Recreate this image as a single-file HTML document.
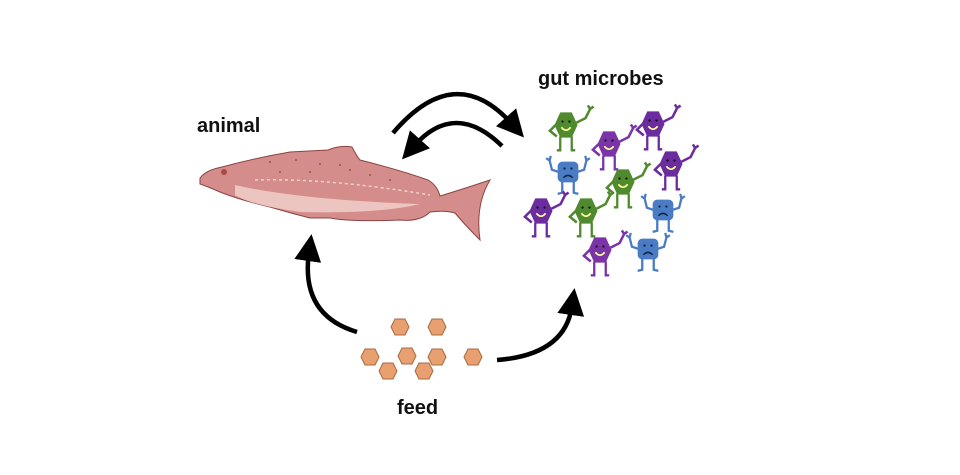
<!DOCTYPE html>
<html><head><style>
body{margin:0;background:#fff;}
.t{font-family:"Liberation Sans",sans-serif;font-weight:bold;font-size:20px;fill:#111;}
</style></head><body>
<svg width="960" height="470" viewBox="0 0 960 470" xmlns="http://www.w3.org/2000/svg">
<defs>
<marker id="ah" markerWidth="6" markerHeight="6" refX="2" refY="3" orient="auto" markerUnits="strokeWidth">
<path d="M0,0 L6,3 L0,6 Z" fill="#000"/></marker>
<g id="hap0">
<path d="M-5,10 L-5,22 L-8,22 M5,10 L5,22 L8,22" fill="none" stroke="currentColor" stroke-width="2"/>
<path d="M-9,0 L-14,5 L-8,10 M9,-2 L17,-6 L21,-14 M21,-14 L19,-17 M21,-14 L24,-16" fill="none" stroke="currentColor" stroke-width="2.2"/>
<polygon points="-5,-11 5,-11 10,0 5,11 -5,11 -10,0" fill="currentColor"/>
<path d="M-4,2 Q0,7 4,2" fill="none" stroke="#ff9" stroke-width="1.5"/>
<circle cx="-3" cy="-3" r="1" fill="#111"/><circle cx="3" cy="-3" r="1" fill="#111"/>
</g>
<g id="hap"><use href="#hap0" transform="scale(1.15)"/></g>
<g id="sad0">
<path d="M-5,8 L-5,18 L-9,19 M5,8 L5,18 L9,19" fill="none" stroke="currentColor" stroke-width="2"/>
<path d="M-8,0 L-14,-2 L-16,-10 M-16,-10 L-19,-12 M-16,-10 L-15,-14 M8,0 L14,-2 L16,-10 M16,-10 L19,-12 M16,-10 L15,-14" fill="none" stroke="currentColor" stroke-width="2"/>
<rect x="-9" y="-9" width="18" height="18" rx="4" fill="currentColor"/>
<path d="M-4,5 Q0,1 4,5" fill="none" stroke="#124" stroke-width="1.3"/>
<circle cx="-3" cy="-3" r="1" fill="#124"/><circle cx="3" cy="-3" r="1" fill="#124"/>
</g>
<g id="sad"><use href="#sad0" transform="scale(1.15)"/></g>
<polygon id="hx" points="-5,-8 5,-8 9,0 5,8 -5,8 -9,0" fill="#e8a070" stroke="#a86a40" stroke-width="1"/>
</defs>

<text class="t" x="197" y="132">animal</text>
<text class="t" x="538" y="85">gut microbes</text>
<text class="t" x="397" y="414">feed</text>

<!-- fish -->
<path d="M200,178 Q206,170 222,167 Q255,158 290,152 L328,150 Q340,145 352,147 Q356,155 360,160 Q400,170 428,180 Q437,185 440,196 Q460,190 490,180 Q475,205 480,240 Q465,225 455,213 Q445,210 430,212 Q420,222 400,220 Q350,222 330,218 L310,218 Q290,213 270,207 Q240,200 220,192 Q206,186 200,184 Z" fill="#d48d8a" stroke="#8a4442" stroke-width="1"/>
<path d="M235,185 Q300,200 420,204 Q380,214 300,212 Q250,205 235,195 Z" fill="#ecc4c0"/>
<path d="M255,180 Q330,178 430,195" fill="none" stroke="#f0d0cc" stroke-width="1.5" stroke-dasharray="3 3"/>
<circle cx="224" cy="172" r="3" fill="#a84a48"/>
<g fill="#a05050"><circle cx="270" cy="162" r="1"/><circle cx="296" cy="160" r="1"/><circle cx="320" cy="164" r="1"/><circle cx="340" cy="165" r="1"/><circle cx="350" cy="170" r="1"/><circle cx="370" cy="175" r="1"/><circle cx="280" cy="172" r="1"/><circle cx="310" cy="172" r="1"/><circle cx="390" cy="180" r="1"/></g>

<!-- arrows -->
<g fill="none" stroke="#000" stroke-width="4.5" stroke-linecap="butt">
<path d="M393,133 Q455,60 512,124" marker-end="url(#ah)"/>
<path d="M502,146 Q455,100 414,146" marker-end="url(#ah)"/>
<path d="M357,332 Q300,315 309,252" marker-end="url(#ah)"/>
<path d="M497,360 Q565,355 572,306" marker-end="url(#ah)"/>
</g>

<!-- feed -->
<use href="#hx" x="400" y="327"/><use href="#hx" x="437" y="327"/>
<use href="#hx" x="370" y="357"/><use href="#hx" x="407" y="356"/><use href="#hx" x="437" y="357"/><use href="#hx" x="473" y="357"/>
<use href="#hx" x="388" y="371"/><use href="#hx" x="424" y="371"/>

<!-- microbes -->
<use href="#hap" x="566" y="125" color="#4f8a2e"/>
<use href="#hap" x="653" y="124" color="#6a2c9e"/>
<use href="#hap" x="609" y="144" color="#7a34a8"/>
<use href="#sad" x="568" y="172" color="#4a7cc4"/>
<use href="#hap" x="671" y="164" color="#6a2c9e"/>
<use href="#hap" x="623" y="182" color="#4f8a2e"/>
<use href="#hap" x="541" y="211" color="#6a2c9e"/>
<use href="#hap" x="586" y="211" color="#4f8a2e"/>
<use href="#sad" x="663" y="210" color="#4a7cc4"/>
<use href="#hap" x="600" y="250" color="#7a34a8"/>
<use href="#sad" x="648" y="249" color="#4a7cc4"/>
</svg>
</body></html>
